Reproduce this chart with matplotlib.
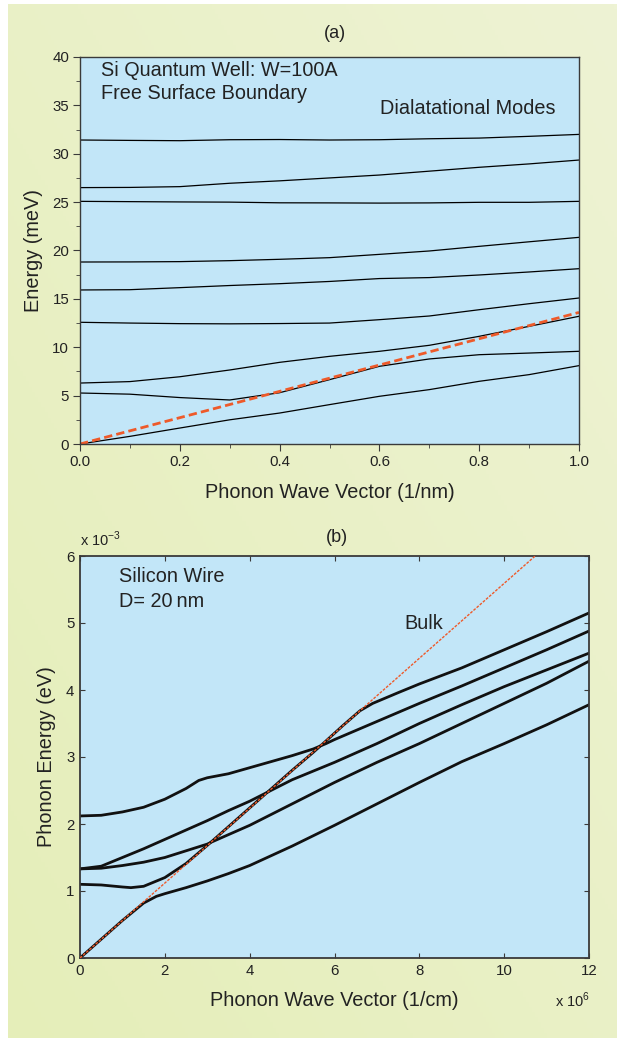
import numpy as np
import matplotlib.pyplot as plt
from matplotlib.ticker import MultipleLocator

plt.rcParams['font.family'] = ['Liberation Sans', 'DejaVu Sans']

# ---- panel (a): Si quantum well, dilatational modes (meV vs 1/nm)
qa = [0.0, 0.1, 0.2, 0.3, 0.4, 0.5, 0.6, 0.7, 0.8, 0.9, 1.0]
mode1 = [31.42, 31.38, 31.35, 31.45, 31.47, 31.42, 31.45, 31.55, 31.62, 31.8, 32.0]
mode2 = [26.5, 26.52, 26.6, 26.95, 27.2, 27.5, 27.8, 28.2, 28.6, 28.95, 29.35]
mode3 = [25.08, 25.05, 25.02, 25.0, 24.93, 24.92, 24.9, 24.92, 24.98, 24.98, 25.08]
mode4 = [18.81, 18.82, 18.85, 18.95, 19.09, 19.26, 19.6, 19.95, 20.43, 20.9, 21.36]
mode5 = [15.92, 15.95, 16.16, 16.38, 16.57, 16.8, 17.1, 17.2, 17.47, 17.78, 18.12]
mode6 = [12.58, 12.5, 12.44, 12.42, 12.45, 12.5, 12.85, 13.23, 13.88, 14.5, 15.09]
mode7 = [6.3, 6.45, 6.95, 7.65, 8.44, 9.06, 9.58, 10.2, 11.13, 12.16, 13.2]
mode8 = [5.27, 5.15, 4.8, 4.55, 5.3, 6.65, 8.03, 8.79, 9.23, 9.4, 9.58]
mode9 = [0.0, 0.79, 1.65, 2.5, 3.2, 4.07, 4.93, 5.62, 6.48, 7.17, 8.1]
bulk_a_q = [0.0, 1.0]
bulk_a_e = [0.0, 13.6]

# ---- panel (b): silicon wire D=20nm (x1e-3 eV vs x1e6 1/cm)
kA = [0, 0.5, 1, 1.5, 2, 2.5, 2.8, 3, 3.5, 4, 4.5, 5, 5.5, 5.8, 6, 7, 8, 9, 10, 11, 12]
eA = [2.12, 2.13, 2.18, 2.25, 2.37, 2.53, 2.65, 2.69, 2.75, 2.84, 2.93, 3.02, 3.12, 3.2,
      3.26, 3.53, 3.8, 4.06, 4.33, 4.6, 4.88]
kB = [0, 0.5, 1, 1.5, 2, 2.5, 3, 3.5, 4, 4.5, 5, 6, 7, 8, 9, 10, 11, 12]
eB = [1.33, 1.37, 1.5, 1.63, 1.77, 1.91, 2.05, 2.2, 2.34, 2.5, 2.66, 2.92, 3.2, 3.5,
      3.78, 4.05, 4.3, 4.55]
kC = [0, 0.5, 1, 1.5, 2, 2.5, 3, 3.1, 4, 5, 6, 7, 8, 9, 10, 11, 12]
eC = [1.33, 1.34, 1.38, 1.43, 1.5, 1.6, 1.7, 1.73, 1.98, 2.3, 2.62, 2.92, 3.2, 3.5, 3.8,
      4.1, 4.43]
kD = [0, 0.5, 1, 1.2, 1.5, 2, 2.5, 3, 3.5, 4, 4.5, 5, 5.5, 5.8, 6.2, 6.6, 6.9, 7.5, 8, 9,
      10, 11, 12]
eD = [1.1, 1.09, 1.06, 1.05, 1.07, 1.2, 1.41, 1.68, 1.96, 2.24, 2.52, 2.8, 3.07, 3.24,
      3.47, 3.69, 3.8, 3.96, 4.09, 4.33, 4.6, 4.87, 5.15]
kE = [0, 0.5, 1, 1.5, 1.8, 2, 2.5, 3, 3.5, 4, 5, 6, 7, 8, 9, 10, 11, 12]
eE = [0, 0.28, 0.56, 0.82, 0.92, 0.96, 1.05, 1.15, 1.26, 1.38, 1.67, 1.98, 2.3, 2.62,
      2.93, 3.2, 3.48, 3.78]
bulk_b_k = [0, 12]
bulk_b_e = [0, 6.71]

W, H = 617, 1038
fig = plt.figure(figsize=(W / 100, H / 100), dpi=100)
fig.patch.set_facecolor('white')

# greenish gradient background panel
bg = fig.add_axes([8 / W, 0, 1 - 8 / W, 1 - 4 / H])
g = np.linspace(0, 1, 200)
gx, gy = np.meshgrid(g, g)
t = (gx + (1 - gy)) / 2
c0 = np.array([229, 238, 185]) / 255
c1 = np.array([238, 243, 212]) / 255
img = c0[None, None, :] * (1 - t[..., None]) + c1[None, None, :] * t[..., None]
bg.imshow(img, aspect='auto', extent=[0, 1, 0, 1])
bg.axis('off')

blue = '#c2e6f8'
spine = '#3a3a3a'
ink = '#222222'
orange = '#ee5a2a'
fs_text = 14.3
fs_tick = 10.8


def fx(px):
    return px / W


def fy(py):
    return 1 - py / H


# ---------------- panel (a)
ax = fig.add_axes([fx(80), fy(444), (579 - 80) / W, (444 - 57) / H])
ax.set_facecolor(blue)
for e in [mode1, mode2, mode3, mode4, mode5, mode6, mode7, mode8, mode9]:
    ax.plot(qa, e, color='black', lw=0.9)
ax.plot(bulk_a_q, bulk_a_e, color=orange, lw=2, ls=(0, (3, 1.5)))
ax.set_xlim(0, 1)
ax.set_ylim(0, 40)
ax.xaxis.set_major_locator(MultipleLocator(0.2))
ax.xaxis.set_minor_locator(MultipleLocator(0.1))
ax.yaxis.set_major_locator(MultipleLocator(5))
ax.yaxis.set_minor_locator(MultipleLocator(2.5))
ax.xaxis.set_major_formatter(plt.FuncFormatter(lambda v, p: '%.1f' % v))
ax.tick_params(which='both', direction='out', colors=spine, labelcolor=ink,
               labelsize=fs_tick, top=False, right=False)
ax.tick_params(which='major', length=4.8, pad=3)
ax.tick_params(which='minor', length=2.6)
for s in ax.spines.values():
    s.set_color(spine)
    s.set_linewidth(1.0)
ax.set_xlabel('Phonon Wave Vector (1/nm)', fontsize=fs_text, color=ink, labelpad=10)
ax.set_ylabel('Energy (meV)', fontsize=fs_text, color=ink, labelpad=7)
ax.text(0.042, 0.951, 'Si Quantum Well: W=100A', transform=ax.transAxes,
        ha='left', va='baseline', fontsize=fs_text, color=ink)
ax.text(0.042, 0.891, 'Free Surface Boundary', transform=ax.transAxes,
        ha='left', va='baseline', fontsize=fs_text, color=ink)
ax.text(0.952, 0.866, 'Dialatational Modes', transform=ax.transAxes, ha='right',
        va='center', fontsize=fs_text, color=ink)
fig.text(fx(335), fy(33), '(a)', ha='center', va='center', fontsize=13, color=ink)

# ---------------- panel (b)
bx = fig.add_axes([fx(80), fy(958), (589 - 80) / W, (958 - 556) / H])
bx.set_facecolor(blue)
for k, e in [(kA, eA), (kB, eB), (kC, eC), (kD, eD), (kE, eE)]:
    bx.plot(k, e, color='#111111', lw=2)
bx.plot(bulk_b_k, bulk_b_e, color=orange, lw=1, ls=(0, (2, 1)), zorder=3)
bx.set_xlim(0, 12)
bx.set_ylim(0, 6)
bx.xaxis.set_major_locator(MultipleLocator(2))
bx.yaxis.set_major_locator(MultipleLocator(1))
bx.tick_params(direction='in', top=True, right=True, length=3.6, colors=spine,
               labelcolor=ink, labelsize=fs_tick, pad=4)
for s in bx.spines.values():
    s.set_color(spine)
    s.set_linewidth(1.3)
bx.set_xlabel('Phonon Wave Vector (1/cm)', fontsize=fs_text, color=ink, labelpad=10)
bx.set_ylabel('Phonon Energy (eV)', fontsize=fs_text, color=ink, labelpad=7)
bx.text(0.077, 0.948, 'Silicon Wire', transform=bx.transAxes, ha='left',
        va='center', fontsize=fs_text, color=ink)
bx.text(0.077, 0.888, 'D= 20\u2009nm', transform=bx.transAxes, ha='left',
        va='center', fontsize=fs_text, color=ink)
bx.text(0.638, 0.833, 'Bulk', transform=bx.transAxes, ha='left', va='center',
        fontsize=fs_text, color=ink)
fig.text(fx(80), fy(546), r'x 10$^{\mathregular{-3}}$', ha='left', va='baseline',
         fontsize=10.5, color=ink)
fig.text(fx(555), fy(1007), r'x 10$^{\mathregular{6}}$', ha='left', va='baseline',
         fontsize=10.5, color=ink)
fig.text(fx(337), fy(538), '(b)', ha='center', va='center', fontsize=13, color=ink)

fig.savefig('out.png', dpi=100)
